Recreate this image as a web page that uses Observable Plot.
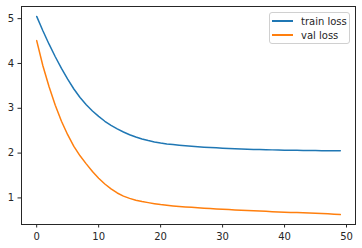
<!DOCTYPE html>
<html>
<head>
<meta charset="utf-8">
<script src="https://cdn.jsdelivr.net/npm/d3@7"></script>
<script src="https://cdn.jsdelivr.net/npm/@observablehq/plot@0.6"></script>
<style>
  html, body { margin: 0; padding: 0; background: white; }
  #wrap { position: relative; width: 362px; height: 248px; }
  #legend {
    position: absolute; left: 269px; top: 12px; width: 81px; height: 32px;
    border: 1px solid #d0d0d0; border-radius: 3px; background: rgba(255,255,255,0.8);
    font-family: "DejaVu Sans", sans-serif; font-size: 10px; color: #262626; box-sizing: border-box;
  }
  .item { position: absolute; left: 2px; height: 12px; display: flex; align-items: center; }
  .sw { display: block; width: 21px; height: 2px; margin-right: 8px; }
</style>
</head>
<body>
<div id="wrap">
  <div id="chart"></div>
  <div id="legend"></div>
</div>
<script>
const epochs = d3.range(0, 50);
const trainLoss = [5.05, 4.73, 4.43, 4.15, 3.89, 3.65, 3.43, 3.24, 3.08, 2.94,
                   2.82, 2.71, 2.62, 2.54, 2.47, 2.41, 2.36, 2.315, 2.28, 2.25,
                   2.225, 2.205, 2.19, 2.175, 2.163, 2.152, 2.142, 2.133, 2.125, 2.117,
                   2.11, 2.103, 2.097, 2.092, 2.087, 2.083, 2.079, 2.075, 2.072, 2.069,
                   2.066, 2.064, 2.062, 2.06, 2.058, 2.056, 2.054, 2.053, 2.052, 2.05];
const valLoss = [4.51, 3.95, 3.48, 3.07, 2.71, 2.41, 2.15, 1.94, 1.76, 1.59,
                 1.44, 1.31, 1.20, 1.11, 1.04, 0.99, 0.95, 0.92, 0.895, 0.872,
                 0.852, 0.836, 0.822, 0.81, 0.80, 0.79, 0.78, 0.771, 0.762, 0.754,
                 0.746, 0.739, 0.732, 0.725, 0.718, 0.712, 0.706, 0.7, 0.694, 0.688,
                 0.682, 0.677, 0.672, 0.667, 0.662, 0.657, 0.651, 0.645, 0.638, 0.628];
const seriesNames = ["train loss", "val loss"];
const seriesColors = ["#1f77b4", "#ff7f0e"];
const xTicks = [0, 10, 20, 30, 40, 50];
const yTicks = [1, 2, 3, 4, 5];

const rows = [];
epochs.forEach((e, i) => {
  rows.push({epoch: e, loss: trainLoss[i], series: seriesNames[0]});
  rows.push({epoch: e, loss: valLoss[i], series: seriesNames[1]});
});

const all = trainLoss.concat(valLoss);
const ymin = d3.min(all), ymax = d3.max(all);
const yr = ymax - ymin;
const xmin = d3.min(epochs), xmax = d3.max(epochs);
const xr = xmax - xmin;

const chart = Plot.plot({
  width: 362, height: 248,
  marginLeft: 21, marginTop: 6, marginRight: 7, marginBottom: 24,
  style: {fontFamily: "DejaVu Sans, sans-serif", fontSize: "10px", background: "white", color: "#262626"},
  x: {domain: [xmin - 0.05 * xr, xmax + 0.05 * xr]},
  y: {domain: [ymin - 0.05 * yr, ymax + 0.05 * yr]},
  color: {domain: seriesNames, range: seriesColors},
  marks: [
    Plot.axisX({ticks: xTicks, tickSize: 3.5, tickPadding: 5, label: null, tickFormat: d => String(d)}),
    Plot.axisY({ticks: yTicks, tickSize: 3.5, tickPadding: 4, label: null, tickFormat: d => String(d)}),
    Plot.line(rows, {x: "epoch", y: "loss", z: "series", stroke: "series", strokeWidth: 1.5}),
    Plot.frame({stroke: "#262626", strokeWidth: 1})
  ]
});
document.getElementById("chart").appendChild(chart);

const legend = document.getElementById("legend");
seriesNames.forEach((name, i) => {
  const it = document.createElement("div");
  it.className = "item";
  it.style.top = (2 + i * 14) + "px";
  const sw = document.createElement("span");
  sw.className = "sw";
  sw.style.background = seriesColors[i];
  it.appendChild(sw);
  const t = document.createElement("span");
  t.textContent = name;
  it.appendChild(t);
  legend.appendChild(it);
});
</script>
</body>
</html>
